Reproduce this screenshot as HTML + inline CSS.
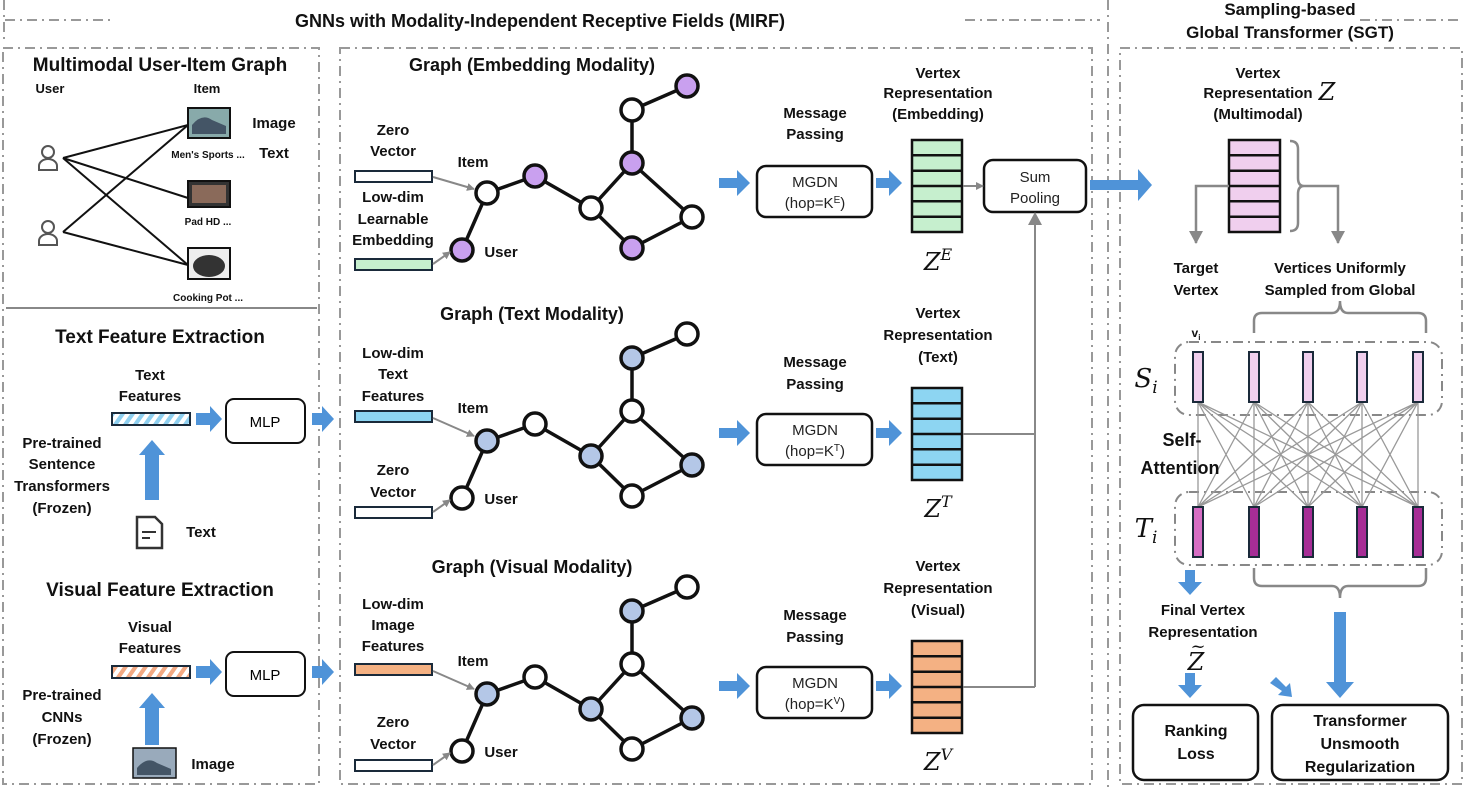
<!DOCTYPE html>
<html><head><meta charset="utf-8"><style>
html,body{margin:0;padding:0;background:#fff}
svg{display:block;font-family:"Liberation Sans",sans-serif}
.b{font-weight:bold;fill:#111}
.t{text-anchor:middle}
.m{font-family:"DejaVu Serif","Liberation Serif",serif;font-style:italic;fill:#111}
</style></head><body>
<svg width="1466" height="788" viewBox="0 0 1466 788" xmlns="http://www.w3.org/2000/svg">
<defs>
<marker id="ga" markerWidth="8" markerHeight="8" refX="7" refY="4" orient="auto" markerUnits="userSpaceOnUse"><path d="M0,0 L8,4 L0,8z" fill="#888"/></marker>
<marker id="gb" markerWidth="14" markerHeight="14" refX="12" refY="7" orient="auto" markerUnits="userSpaceOnUse"><path d="M0,0 L13,7 L0,14z" fill="#888"/></marker>
<pattern id="hb" width="10" height="12" patternUnits="userSpaceOnUse" patternTransform="skewX(-35)"><rect width="10" height="12" fill="#fff"/><rect width="5" height="12" fill="#8fd0f0"/></pattern>
<pattern id="ho" width="10" height="12" patternUnits="userSpaceOnUse" patternTransform="skewX(-35)"><rect width="10" height="12" fill="#fff"/><rect width="5" height="12" fill="#f2a983"/></pattern>
</defs>
<g stroke="#999" stroke-width="2" fill="none" stroke-dasharray="10,5,2,5">
<line x1="5" y1="20" x2="115" y2="20"/><line x1="965" y1="20" x2="1100" y2="20"/>
<line x1="4" y1="0" x2="4" y2="40"/>
<line x1="1108" y1="0" x2="1108" y2="788"/>
<rect x="3" y="48" width="316" height="736"/>
<rect x="340" y="48" width="752" height="736"/>
<rect x="1120" y="48" width="342" height="736"/>
<line x1="1360" y1="20" x2="1460" y2="20"/>
</g>
<line x1="6" y1="308" x2="317" y2="308" stroke="#888" stroke-width="2"/>
<text x="540" y="27" class="b t" font-size="18">GNNs with Modality-Independent Receptive Fields (MIRF)</text>
<text x="1290" y="15" class="b t" font-size="17">Sampling-based</text>
<text x="1290" y="38" class="b t" font-size="17">Global Transformer (SGT)</text>

<!-- left panel -->
<text x="160" y="71" class="b t" font-size="19">Multimodal User-Item Graph</text>
<text x="50" y="93" class="b t" font-size="13">User</text>
<text x="207" y="93" class="b t" font-size="13">Item</text>
<g stroke="#111" stroke-width="2"><line x1="63" y1="158" x2="188" y2="125"/><line x1="63" y1="158" x2="188" y2="198"/><line x1="63" y1="158" x2="188" y2="265"/><line x1="63" y1="232" x2="188" y2="125"/><line x1="63" y1="232" x2="188" y2="265"/></g>
<g fill="none" stroke="#555" stroke-width="2"><circle cx="48" cy="152" r="6"/><path d="M39,170 v-4 a9,7 0 0 1 18,0 v4z"/><circle cx="48" cy="227" r="6"/><path d="M39,245 v-4 a9,7 0 0 1 18,0 v4z"/></g>
<rect x="188" y="108" width="42" height="30" fill="#8aa" stroke="#111" stroke-width="2"/><path d="M192,125 q10,-12 20,-5 l14,6 v8 h-34z" fill="#456"/>
<rect x="188" y="181" width="42" height="26" fill="#333" stroke="#111" stroke-width="2"/><rect x="192" y="185" width="34" height="18" fill="#8a6a5a"/>
<rect x="188" y="248" width="42" height="31" fill="#eee" stroke="#111" stroke-width="2"/><ellipse cx="209" cy="266" rx="16" ry="11" fill="#333"/>
<text x="208" y="158" class="b t" font-size="10">Men's Sports ...</text>
<text x="208" y="225" class="b t" font-size="10">Pad HD ...</text>
<text x="208" y="301" class="b t" font-size="10">Cooking Pot ...</text>
<text x="274" y="128" class="b t" font-size="15">Image</text>
<text x="274" y="158" class="b t" font-size="15">Text</text>

<text x="160" y="343" class="b t" font-size="19">Text Feature Extraction</text>
<text x="150" y="380" class="b t" font-size="15">Text</text>
<text x="150" y="401" class="b t" font-size="15">Features</text>
<rect x="112" y="413" width="78" height="12" fill="url(#hb)" stroke="#1a2a3a" stroke-width="2"/>
<text x="62" y="448" class="b t" font-size="15">Pre-trained</text>
<text x="62" y="469" class="b t" font-size="15">Sentence</text>
<text x="62" y="491" class="b t" font-size="15">Transformers</text>
<text x="62" y="513" class="b t" font-size="15">(Frozen)</text>
<path d="M145,500 V455 H139 L152,440 L165,455 H159 V500z" fill="#4f93d8"/>
<path d="M137,517 h18 l7,7 v24 h-25z" fill="none" stroke="#333" stroke-width="2.5"/><line x1="142" y1="532" x2="156" y2="532" stroke="#333" stroke-width="2"/><line x1="142" y1="538" x2="150" y2="538" stroke="#333" stroke-width="2"/>
<text x="201" y="537" class="b t" font-size="15">Text</text>
<rect x="226" y="399" width="79" height="44" rx="8" fill="#fff" stroke="#111" stroke-width="2"/>
<text x="265" y="427" class="t" font-size="15">MLP</text>

<text x="160" y="596" class="b t" font-size="19">Visual Feature Extraction</text>
<text x="150" y="632" class="b t" font-size="15">Visual</text>
<text x="150" y="653" class="b t" font-size="15">Features</text>
<rect x="112" y="666" width="78" height="12" fill="url(#ho)" stroke="#1a2a3a" stroke-width="2"/>
<text x="62" y="700" class="b t" font-size="15">Pre-trained</text>
<text x="62" y="722" class="b t" font-size="15">CNNs</text>
<text x="62" y="744" class="b t" font-size="15">(Frozen)</text>
<path d="M145,745 V708 H139 L152,693 L165,708 H159 V745z" fill="#4f93d8"/>
<rect x="133" y="748" width="43" height="30" fill="#9ab" stroke="#111" stroke-width="1.5"/><path d="M137,768 q10,-12 20,-5 l14,6 v6 h-34z" fill="#456"/>
<text x="213" y="769" class="b t" font-size="15">Image</text>
<rect x="226" y="652" width="79" height="44" rx="8" fill="#fff" stroke="#111" stroke-width="2"/>
<text x="265" y="680" class="t" font-size="15">MLP</text>

<g fill="#4f93d8">
<path d="M196,413 h14 v-7 l12,13 l-12,13 v-7 h-14z"/>
<path d="M312,413 h10 v-7 l12,13 l-12,13 v-7 h-10z"/>
<path d="M196,666 h14 v-7 l12,13 l-12,13 v-7 h-14z"/>
<path d="M312,666 h10 v-7 l12,13 l-12,13 v-7 h-10z"/>
</g>

<!-- graphs -->
<g id="gE">
<g stroke="#111" stroke-width="3.5">
<line x1="462" y1="250" x2="487" y2="193"/><line x1="487" y1="193" x2="535" y2="176"/><line x1="535" y1="176" x2="591" y2="208"/><line x1="591" y1="208" x2="632" y2="163"/><line x1="632" y1="163" x2="632" y2="110"/><line x1="632" y1="110" x2="687" y2="86"/><line x1="632" y1="163" x2="692" y2="217"/><line x1="692" y1="217" x2="632" y2="248"/><line x1="632" y1="248" x2="591" y2="208"/>
</g>
</g>
<g stroke="#111" stroke-width="3.5" transform="translate(0,248)">
<line x1="462" y1="250" x2="487" y2="193"/><line x1="487" y1="193" x2="535" y2="176"/><line x1="535" y1="176" x2="591" y2="208"/><line x1="591" y1="208" x2="632" y2="163"/><line x1="632" y1="163" x2="632" y2="110"/><line x1="632" y1="110" x2="687" y2="86"/><line x1="632" y1="163" x2="692" y2="217"/><line x1="692" y1="217" x2="632" y2="248"/><line x1="632" y1="248" x2="591" y2="208"/>
</g>
<g stroke="#111" stroke-width="3.5" transform="translate(0,501)">
<line x1="462" y1="250" x2="487" y2="193"/><line x1="487" y1="193" x2="535" y2="176"/><line x1="535" y1="176" x2="591" y2="208"/><line x1="591" y1="208" x2="632" y2="163"/><line x1="632" y1="163" x2="632" y2="110"/><line x1="632" y1="110" x2="687" y2="86"/><line x1="632" y1="163" x2="692" y2="217"/><line x1="692" y1="217" x2="632" y2="248"/><line x1="632" y1="248" x2="591" y2="208"/>
</g>
<g stroke="#111" stroke-width="3.5">
<circle cx="487" cy="193" r="11" fill="#fff"/><circle cx="535" cy="176" r="11" fill="#c9a0ef"/><circle cx="591" cy="208" r="11" fill="#fff"/><circle cx="632" cy="163" r="11" fill="#c9a0ef"/><circle cx="632" cy="110" r="11" fill="#fff"/><circle cx="687" cy="86" r="11" fill="#c9a0ef"/><circle cx="692" cy="217" r="11" fill="#fff"/><circle cx="632" cy="248" r="11" fill="#c9a0ef"/><circle cx="462" cy="250" r="11" fill="#c9a0ef"/>
</g>
<g stroke="#111" stroke-width="3.5" transform="translate(0,248)">
<circle cx="487" cy="193" r="11" fill="#b4c7e7"/><circle cx="535" cy="176" r="11" fill="#fff"/><circle cx="591" cy="208" r="11" fill="#b4c7e7"/><circle cx="632" cy="163" r="11" fill="#fff"/><circle cx="632" cy="110" r="11" fill="#b4c7e7"/><circle cx="687" cy="86" r="11" fill="#fff"/><circle cx="692" cy="217" r="11" fill="#b4c7e7"/><circle cx="632" cy="248" r="11" fill="#fff"/><circle cx="462" cy="250" r="11" fill="#fff"/>
</g>
<g stroke="#111" stroke-width="3.5" transform="translate(0,501)">
<circle cx="487" cy="193" r="11" fill="#b4c7e7"/><circle cx="535" cy="176" r="11" fill="#fff"/><circle cx="591" cy="208" r="11" fill="#b4c7e7"/><circle cx="632" cy="163" r="11" fill="#fff"/><circle cx="632" cy="110" r="11" fill="#b4c7e7"/><circle cx="687" cy="86" r="11" fill="#fff"/><circle cx="692" cy="217" r="11" fill="#b4c7e7"/><circle cx="632" cy="248" r="11" fill="#fff"/><circle cx="462" cy="250" r="11" fill="#fff"/>
</g>

<text x="532" y="71" class="b t" font-size="18">Graph (Embedding Modality)</text>
<text x="532" y="320" class="b t" font-size="18">Graph (Text Modality)</text>
<text x="532" y="573" class="b t" font-size="18">Graph (Visual Modality)</text>

<!-- embedding labels -->
<text x="393" y="135" class="b t" font-size="15">Zero</text>
<text x="393" y="156" class="b t" font-size="15">Vector</text>
<rect x="355" y="171" width="77" height="11" fill="#fff" stroke="#1a2a3a" stroke-width="2"/>
<text x="393" y="202" class="b t" font-size="15">Low-dim</text>
<text x="393" y="224" class="b t" font-size="15">Learnable</text>
<text x="393" y="245" class="b t" font-size="15">Embedding</text>
<rect x="355" y="259" width="77" height="11" fill="#c6efce" stroke="#1a2a3a" stroke-width="2"/>
<text x="473" y="167" class="b t" font-size="15">Item</text>
<text x="501" y="257" class="b t" font-size="15">User</text>
<line x1="433" y1="177" x2="474" y2="189" stroke="#888" stroke-width="2" marker-end="url(#ga)"/>
<line x1="433" y1="264" x2="450" y2="252" stroke="#888" stroke-width="2" marker-end="url(#ga)"/>

<!-- text labels -->
<text x="393" y="358" class="b t" font-size="15">Low-dim</text>
<text x="393" y="379" class="b t" font-size="15">Text</text>
<text x="393" y="401" class="b t" font-size="15">Features</text>
<rect x="355" y="411" width="77" height="11" fill="#8dd5f2" stroke="#1a2a3a" stroke-width="2"/>
<text x="393" y="475" class="b t" font-size="15">Zero</text>
<text x="393" y="497" class="b t" font-size="15">Vector</text>
<rect x="355" y="507" width="77" height="11" fill="#fff" stroke="#1a2a3a" stroke-width="2"/>
<text x="473" y="413" class="b t" font-size="15">Item</text>
<text x="501" y="504" class="b t" font-size="15">User</text>
<line x1="433" y1="418" x2="474" y2="436" stroke="#888" stroke-width="2" marker-end="url(#ga)"/>
<line x1="433" y1="512" x2="450" y2="500" stroke="#888" stroke-width="2" marker-end="url(#ga)"/>

<!-- visual labels -->
<text x="393" y="609" class="b t" font-size="15">Low-dim</text>
<text x="393" y="630" class="b t" font-size="15">Image</text>
<text x="393" y="651" class="b t" font-size="15">Features</text>
<rect x="355" y="664" width="77" height="11" fill="#f4b183" stroke="#1a2a3a" stroke-width="2"/>
<text x="393" y="727" class="b t" font-size="15">Zero</text>
<text x="393" y="749" class="b t" font-size="15">Vector</text>
<rect x="355" y="760" width="77" height="11" fill="#fff" stroke="#1a2a3a" stroke-width="2"/>
<text x="473" y="666" class="b t" font-size="15">Item</text>
<text x="501" y="757" class="b t" font-size="15">User</text>
<line x1="433" y1="671" x2="474" y2="689" stroke="#888" stroke-width="2" marker-end="url(#ga)"/>
<line x1="433" y1="765" x2="450" y2="753" stroke="#888" stroke-width="2" marker-end="url(#ga)"/>

<!-- message passing rows -->
<g fill="#4f93d8">
<path d="M719,178 h18 v-8 l13,13 l-13,13 v-8 h-18z"/>
<path d="M876,178 h13 v-8 l13,13 l-13,13 v-8 h-13z"/>
<path d="M719,428 h18 v-8 l13,13 l-13,13 v-8 h-18z"/>
<path d="M876,428 h13 v-8 l13,13 l-13,13 v-8 h-13z"/>
<path d="M719,681 h18 v-8 l13,13 l-13,13 v-8 h-18z"/>
<path d="M876,681 h13 v-8 l13,13 l-13,13 v-8 h-13z"/>
<path d="M1090,180 h48 v-11 l14,16 l-14,16 v-11 h-48z"/>
</g>
<g font-size="15" class="b t">
<text x="815" y="118" class="b t">Message</text><text x="815" y="139" class="b t">Passing</text>
<text x="815" y="367" class="b t">Message</text><text x="815" y="389" class="b t">Passing</text>
<text x="815" y="620" class="b t">Message</text><text x="815" y="642" class="b t">Passing</text>
<text x="938" y="78" class="b t">Vertex</text><text x="938" y="98" class="b t">Representation</text><text x="938" y="119" class="b t">(Embedding)</text>
<text x="938" y="318" class="b t">Vertex</text><text x="938" y="340" class="b t">Representation</text><text x="938" y="362" class="b t">(Text)</text>
<text x="938" y="571" class="b t">Vertex</text><text x="938" y="593" class="b t">Representation</text><text x="938" y="615" class="b t">(Visual)</text>
</g>
<g stroke="#111" stroke-width="2.5" fill="#fff">
<rect x="757" y="166" width="115" height="51" rx="9"/>
<rect x="757" y="414" width="115" height="51" rx="9"/>
<rect x="757" y="667" width="115" height="51" rx="9"/>
<rect x="984" y="160" width="102" height="52" rx="9"/>
</g>
<g font-size="15" class="t" fill="#222">
<text x="815" y="187" class="t">MGDN</text><text x="815" y="208" class="t">(hop=K<tspan font-size="10" dy="-5">E</tspan><tspan dy="5">)</tspan></text>
<text x="815" y="435" class="t">MGDN</text><text x="815" y="456" class="t">(hop=K<tspan font-size="10" dy="-5">T</tspan><tspan dy="5">)</tspan></text>
<text x="815" y="688" class="t">MGDN</text><text x="815" y="709" class="t">(hop=K<tspan font-size="10" dy="-5">V</tspan><tspan dy="5">)</tspan></text>
<text x="1035" y="182" class="t">Sum</text><text x="1035" y="203" class="t">Pooling</text>
</g>
<!-- stacks -->
<g stroke="#111" stroke-width="2.5">
<rect x="912" y="140" width="50" height="92" fill="#c6efce"/>
<path d="M912,155.3h50M912,170.7h50M912,186h50M912,201.3h50M912,216.7h50"/>
<rect x="912" y="388" width="50" height="92" fill="#8dd5f2"/>
<path d="M912,403.3h50M912,418.7h50M912,434h50M912,449.3h50M912,464.7h50"/>
<rect x="912" y="641" width="50" height="92" fill="#f4b183"/>
<path d="M912,656.3h50M912,671.7h50M912,687h50M912,702.3h50M912,717.7h50"/>
</g>
<text x="938" y="270" class="m t" font-size="24">Z<tspan font-size="16" dy="-10">E</tspan></text>
<text x="938" y="517" class="m t" font-size="24">Z<tspan font-size="16" dy="-10">T</tspan></text>
<text x="938" y="770" class="m t" font-size="24">Z<tspan font-size="16" dy="-10">V</tspan></text>
<line x1="963" y1="186" x2="983" y2="186" stroke="#888" stroke-width="2" marker-end="url(#ga)"/>
<polyline points="963,434 1035,434 1035,213" fill="none" stroke="#888" stroke-width="2" marker-end="url(#gb)"/>
<line x1="963" y1="687" x2="1035" y2="687" stroke="#888" stroke-width="2"/>
<line x1="1035" y1="687" x2="1035" y2="434" stroke="#888" stroke-width="2"/>

<!-- right panel -->
<text x="1258" y="78" class="b t" font-size="15">Vertex</text>
<text x="1258" y="98" class="b t" font-size="15">Representation</text>
<text x="1258" y="119" class="b t" font-size="15">(Multimodal)</text>
<text x="1327" y="100" class="m t" font-size="24">Z</text>
<g stroke="#111" stroke-width="2.5">
<rect x="1229" y="140" width="51" height="92" fill="#f0cfee"/>
<path d="M1229,155.3h51M1229,170.7h51M1229,186h51M1229,201.3h51M1229,216.7h51"/>
</g>
<path d="M1290,141 q8,0 8,8 v29 q0,8 6,8 q-6,0 -6,8 v29 q0,8 -8,8" fill="none" stroke="#888" stroke-width="2.5"/>
<polyline points="1229,186 1196,186 1196,243" fill="none" stroke="#888" stroke-width="2.5" marker-end="url(#gb)"/>
<polyline points="1304,186 1338,186 1338,243" fill="none" stroke="#888" stroke-width="2.5" marker-end="url(#gb)"/>
<text x="1196" y="273" class="b t" font-size="15">Target</text>
<text x="1196" y="295" class="b t" font-size="15">Vertex</text>
<text x="1340" y="273" class="b t" font-size="15">Vertices Uniformly</text>
<text x="1340" y="295" class="b t" font-size="15">Sampled from Global</text>
<path d="M1254,333 v-12 q0,-8 8,-8 h70 q8,0 8,-12 q0,12 8,12 h70 q8,0 8,8 v12" fill="none" stroke="#888" stroke-width="2.5"/>
<text x="1196" y="337" class="b t" font-size="12">v<tspan font-size="8" dy="3">i</tspan></text>
<rect x="1175" y="342" width="267" height="73" rx="14" fill="none" stroke="#888" stroke-width="2" stroke-dasharray="10,5,2,5"/>
<rect x="1175" y="492" width="267" height="73" rx="14" fill="none" stroke="#888" stroke-width="2" stroke-dasharray="10,5,2,5"/>
<g stroke="#999" stroke-width="1.3">
<path d="M1198,402L1198,507M1198,402L1254,507M1198,402L1308,507M1198,402L1362,507M1198,402L1418,507
M1254,402L1198,507M1254,402L1254,507M1254,402L1308,507M1254,402L1362,507M1254,402L1418,507
M1308,402L1198,507M1308,402L1254,507M1308,402L1308,507M1308,402L1362,507M1308,402L1418,507
M1362,402L1198,507M1362,402L1254,507M1362,402L1308,507M1362,402L1362,507M1362,402L1418,507
M1418,402L1198,507M1418,402L1254,507M1418,402L1308,507M1418,402L1362,507M1418,402L1418,507"/>
</g>
<g stroke="#1a2a3a" stroke-width="2">
<rect x="1193" y="352" width="10" height="50" fill="#f0cfee"/><rect x="1249" y="352" width="10" height="50" fill="#f0cfee"/><rect x="1303" y="352" width="10" height="50" fill="#f0cfee"/><rect x="1357" y="352" width="10" height="50" fill="#f0cfee"/><rect x="1413" y="352" width="10" height="50" fill="#f0cfee"/>
<rect x="1193" y="507" width="10" height="50" fill="#d66ec4"/><rect x="1249" y="507" width="10" height="50" fill="#a62d96"/><rect x="1303" y="507" width="10" height="50" fill="#a62d96"/><rect x="1357" y="507" width="10" height="50" fill="#a62d96"/><rect x="1413" y="507" width="10" height="50" fill="#a62d96"/>
</g>
<text x="1146" y="387" class="m t" font-size="26">S<tspan font-size="17" dy="6">i</tspan></text>
<text x="1146" y="537" class="m t" font-size="26">T<tspan font-size="17" dy="6">i</tspan></text>
<text x="1182" y="446" class="b t" font-size="18">Self-</text>
<text x="1180" y="474" class="b t" font-size="18">Attention</text>
<path d="M1254,568 v10 q0,8 8,8 h70 q8,0 8,12 q0,-12 8,-12 h70 q8,0 8,-8 v-10" fill="none" stroke="#888" stroke-width="2.5"/>
<g fill="#4f93d8">
<path d="M1185,570 h10 v12 h7 l-12,13 l-12,-13 h7z"/>
<path d="M1185,673 h10 v12 h7 l-12,13 l-12,-13 h7z"/>
<path d="M1334,612 h12 v70 h8 l-14,16 l-14,-16 h8z"/>
<path d="M1270,683 l6,-6 l10,10 l4,-4 l2,14 l-14,-2 l4,-4z"/>
</g>
<text x="1203" y="615" class="b t" font-size="15">Final Vertex</text>
<text x="1203" y="637" class="b t" font-size="15">Representation</text>
<text x="1196" y="670" class="m t" font-size="24">Z</text><text x="1198" y="652" class="m t" font-size="18">~</text>
<rect x="1133" y="705" width="125" height="75" rx="11" fill="#fff" stroke="#111" stroke-width="2.5"/>
<rect x="1272" y="705" width="176" height="75" rx="11" fill="#fff" stroke="#111" stroke-width="2.5"/>
<text x="1196" y="736" class="b t" font-size="16">Ranking</text>
<text x="1196" y="759" class="b t" font-size="16">Loss</text>
<text x="1360" y="726" class="b t" font-size="16">Transformer</text>
<text x="1360" y="749" class="b t" font-size="16">Unsmooth</text>
<text x="1360" y="772" class="b t" font-size="16">Regularization</text>
</svg>
</body></html>
